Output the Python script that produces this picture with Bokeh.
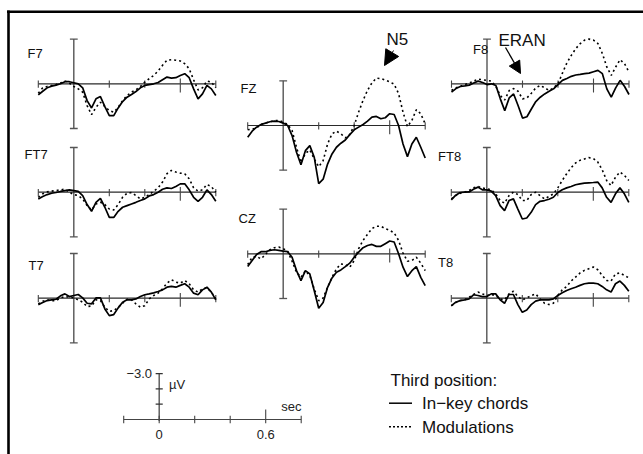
from bokeh.plotting import figure
from bokeh.models import Range1d, Arrow, NormalHead
from bokeh.core.properties import value
from bokeh.embed import file_html
from bokeh.resources import INLINE

# ---------------- data (µV, negative plotted upward) ----------------
TIME_S = [-0.2, -0.175, -0.15, -0.125, -0.1, -0.075, -0.05, -0.025, 0.0, 0.025,
          0.05, 0.075, 0.1, 0.125, 0.15, 0.175, 0.2, 0.225, 0.25, 0.275,
          0.3, 0.325, 0.35, 0.375, 0.4, 0.425, 0.45, 0.475, 0.5, 0.525,
          0.55, 0.575, 0.6, 0.625, 0.65, 0.675, 0.7, 0.725, 0.75, 0.775, 0.8]

F7_INKEY = [0.74, 0.50, 0.27, 0.16, 0.09, 0.00, -0.14, -0.14, -0.07, 0.00,
            0.27, 1.13, 1.62, 1.01, 0.86, 1.53, 2.14, 2.14, 1.62, 1.19,
            0.90, 0.72, 0.52, 0.27, 0.11, 0.05, 0.00, -0.09, -0.27, -0.45,
            -0.38, -0.41, -0.56, -0.68, -0.41, 0.34, 1.01, 0.68, 0.11, 0.34, 0.79]
F7_MOD = [0.63, 0.27, 0.18, 0.11, 0.05, -0.05, -0.18, -0.05, 0.18, 0.34,
          0.56, 1.46, 2.07, 1.58, 1.24, 1.53, 1.80, 1.91, 1.58, 1.13,
          0.79, 0.56, 0.41, 0.18, -0.11, -0.34, -0.56, -0.86, -1.24, -1.58,
          -1.62, -1.58, -1.53, -1.35, -1.01, -0.27, 0.41, 0.27, -0.18, -0.11, 0.27]

FT7_INKEY = [0.45, 0.29, 0.16, 0.07, 0.02, -0.05, -0.11, -0.16, -0.11, -0.05,
             0.23, 0.83, 1.28, 0.68, 0.41, 1.01, 1.69, 1.69, 1.28, 1.01,
             0.90, 0.79, 0.68, 0.56, 0.45, 0.25, 0.16, 0.00, -0.20, -0.29,
             -0.25, -0.38, -0.56, -0.56, -0.16, 0.34, 0.61, 0.34, -0.16, 0.16, 0.61]
FT7_MOD = [0.34, 0.11, -0.02, -0.07, -0.11, -0.16, -0.20, 0.00, 0.16, 0.23,
           0.45, 0.90, 1.19, 0.79, 0.68, 0.83, 1.13, 1.19, 0.83, 0.34,
           0.07, 0.02, 0.23, 0.45, 0.34, 0.16, -0.07, -0.29, -0.68, -1.24,
           -1.46, -1.35, -1.28, -1.24, -0.90, -0.29, -0.07, -0.16, -0.52, -0.38, 0.00]

T7_INKEY = [0.43, 0.29, 0.16, 0.11, 0.07, -0.16, -0.29, -0.11, -0.18, -0.25,
            -0.02, 0.34, 0.38, -0.02, -0.02, 0.72, 1.17, 1.10, 0.65, 0.27,
            0.11, 0.11, 0.05, -0.11, -0.23, -0.29, -0.36, -0.45, -0.56, -0.74,
            -0.79, -0.74, -0.86, -0.97, -0.74, -0.34, -0.23, -0.56, -0.74, -0.41, 0.11]
T7_MOD = [0.38, 0.20, 0.11, 0.16, 0.16, -0.02, -0.11, -0.07, -0.02, 0.11,
          0.27, 0.56, 0.52, 0.11, 0.16, 0.61, 0.88, 0.83, 0.61, 0.34,
          0.07, 0.11, 0.38, 0.61, 0.50, 0.05, -0.18, -0.34, -0.63, -1.01,
          -1.24, -1.08, -1.01, -1.19, -0.97, -0.56, -0.41, -0.63, -0.70, -0.41, 0.05]

FZ_INKEY = [0.79, 0.38, 0.11, -0.07, -0.16, -0.25, -0.29, -0.27, -0.16, 0.00,
            0.68, 1.80, 2.64, 1.69, 1.35, 2.14, 3.90, 3.60, 2.59, 1.91,
            1.46, 1.19, 0.97, 0.61, 0.29, 0.11, -0.07, -0.29, -0.56, -0.61,
            -0.45, -0.52, -0.79, -0.74, 0.00, 1.24, 2.09, 1.24, 0.79, 1.46, 2.18]
FZ_MOD = [0.29, 0.25, 0.16, -0.07, -0.16, -0.25, -0.34, -0.34, -0.23, -0.07,
          0.34, 1.46, 2.48, 1.87, 1.64, 2.25, 2.77, 2.36, 1.24, 0.56,
          0.38, 0.56, 0.83, 0.61, 0.00, -0.90, -1.69, -2.36, -2.86, -3.18,
          -3.15, -3.04, -2.93, -2.77, -2.14, -0.90, 0.07, -0.34, -1.06, -0.79, -0.11]

CZ_INKEY = [0.86, 0.45, 0.05, -0.14, -0.14, -0.23, -0.27, -0.23, -0.18, -0.14,
            0.23, 1.13, 1.80, 1.13, 1.35, 2.48, 3.65, 3.27, 2.25, 1.62,
            1.24, 1.08, 0.86, 0.63, 0.23, -0.11, -0.41, -0.56, -0.63, -0.50,
            -0.50, -0.68, -0.86, -0.79, 0.00, 0.90, 1.53, 1.13, 0.86, 1.58, 2.14]
CZ_MOD = [0.72, 0.23, 0.18, 0.34, 0.05, -0.27, -0.41, -0.45, -0.34, -0.18,
          0.50, 1.24, 1.58, 1.13, 1.46, 2.36, 3.15, 2.97, 2.25, 1.58,
          1.01, 0.68, 0.72, 0.90, 0.45, -0.34, -0.90, -1.31, -1.69, -1.85,
          -1.85, -1.69, -1.58, -1.40, -0.90, -0.05, 0.50, 0.45, 0.23, 0.63, 1.13]

F8_INKEY = [0.56, 0.32, 0.18, 0.14, 0.09, -0.05, -0.18, -0.09, 0.05, 0.00,
            0.11, 1.01, 1.80, 0.95, 0.68, 1.46, 2.30, 2.21, 1.69, 1.19,
            0.90, 0.68, 0.50, 0.34, 0.05, -0.23, -0.36, -0.50, -0.59, -0.63,
            -0.68, -0.72, -0.81, -0.90, -0.68, 0.34, 0.90, 0.27, -0.23, 0.18, 0.72]
F8_MOD = [0.45, 0.27, 0.16, 0.05, -0.05, -0.18, -0.32, -0.27, -0.23, -0.18,
          0.18, 0.79, 1.08, 0.45, 0.32, 0.50, 1.01, 0.95, 0.63, 0.27,
          0.11, 0.27, 0.45, 0.27, 0.00, -0.72, -1.40, -1.91, -2.36, -2.70,
          -2.93, -3.00, -2.93, -2.70, -2.03, -1.13, -0.56, -1.13, -1.62, -1.35, -0.79]

FT8_INKEY = [0.52, 0.20, 0.02, 0.00, -0.02, -0.20, -0.34, -0.16, -0.16, -0.07,
             0.23, 0.90, 1.24, 0.56, 0.45, 1.13, 1.80, 1.73, 1.35, 0.83,
             0.61, 0.56, 0.47, 0.34, 0.02, -0.16, -0.29, -0.38, -0.50, -0.56,
             -0.61, -0.63, -0.65, -0.68, -0.29, 0.34, 0.68, 0.11, -0.29, 0.11, 0.68]
FT8_MOD = [0.45, 0.23, 0.07, 0.00, -0.11, -0.29, -0.38, -0.29, -0.23, -0.16,
           0.11, 0.56, 0.74, 0.23, 0.00, 0.16, 0.56, 0.56, 0.16, 0.00,
           0.23, 0.45, 0.29, 0.11, -0.29, -0.79, -1.24, -1.64, -1.96, -2.14,
           -2.23, -2.32, -2.27, -2.03, -1.51, -0.79, -0.45, -1.01, -1.35, -1.13, -0.79]

T8_INKEY = [0.52, 0.27, 0.16, 0.11, 0.05, -0.23, -0.18, -0.11, -0.11, -0.29,
            -0.29, 0.11, 0.34, -0.25, -0.25, 0.43, 0.95, 0.79, 0.43, 0.20,
            0.11, 0.11, 0.11, 0.05, -0.18, -0.36, -0.52, -0.63, -0.74, -0.86,
            -0.97, -1.01, -1.01, -0.97, -0.79, -0.56, -0.41, -0.97, -1.15, -0.86, -0.47]
T8_MOD = [0.50, 0.29, 0.16, 0.11, -0.07, -0.25, -0.41, -0.29, -0.18, -0.25,
          -0.18, 0.05, 0.11, -0.29, -0.47, -0.11, 0.11, -0.02, -0.18, -0.29,
          0.05, 0.34, 0.43, 0.34, -0.18, -0.56, -0.79, -1.15, -1.42, -1.69,
          -1.87, -1.98, -2.09, -1.91, -1.53, -1.19, -1.15, -1.64, -1.69, -1.53, -1.37]

ELECTRODES = ["F7", "FT7", "T7", "FZ", "CZ", "F8", "FT8", "T8"]
INKEY = {"F7": F7_INKEY, "FT7": FT7_INKEY, "T7": T7_INKEY, "FZ": FZ_INKEY,
         "CZ": CZ_INKEY, "F8": F8_INKEY, "FT8": FT8_INKEY, "T8": T8_INKEY}
MODUL = {"F7": F7_MOD, "FT7": FT7_MOD, "T7": T7_MOD, "FZ": FZ_MOD,
         "CZ": CZ_MOD, "F8": F8_MOD, "FT8": FT8_MOD, "T8": T8_MOD}

X_TICKS = [-0.2, 0.2, 0.4, 0.6, 0.8]
SCALE_X_TICKS = [-0.2, 0.0, 0.2, 0.4, 0.6, 0.8]
SCALE_Y_TICKS = [-3, -2, -1]
SCALE_X_LABELS = ["0", "0.6"]
SCALE_X_LABEL_POS = [0.0, 0.6]
LEGEND_TITLE = "Third position:"
LEGEND_ITEMS = ["In\u2212key chords", "Modulations"]

# ---------------- layout (screen pixels) ----------------
PX_PER_S = 177.5
PX_PER_UV = 14.9
PANEL_ORIGIN = {"F7": (73.3, 83.3), "FT7": (73.3, 191.7), "T7": (73.3, 297.7),
                "FZ": (282.7, 125.0), "CZ": (282.7, 253.3),
                "F8": (486.5, 83.3), "FT8": (486.3, 191.7), "T8": (486.3, 297.7)}
LABEL_POS = {"F7": (27, 52.5), "FT7": (24, 154), "T7": (28, 265),
             "FZ": (240, 88), "CZ": (238, 217.5),
             "F8": (472.5, 49), "FT8": (437.5, 156), "T8": (437.5, 261.5)}
FONT = value("Liberation Sans")

p = figure(width=643, height=454, x_range=Range1d(0, 643), y_range=Range1d(454, 0),
           output_backend="svg", toolbar_location=None, min_border=0,
           x_axis_location=None, y_axis_location=None)
p.grid.visible = False
p.outline_line_color = None
p.background_fill_color = "white"
p.border_fill_color = "white"

# frame lines (top and left)
p.segment(x0=[6.5, 8], y0=[11.3, 10], x1=[643, 8], y1=[11.3, 454],
          line_color="black", line_width=2.6)


def panel(x0, y0):
    return p.subplot(
        x_source=Range1d(-0.2, 0.8), y_source=Range1d(-3, 3),
        x_target=Range1d(x0 - 0.2 * PX_PER_S, x0 + 0.8 * PX_PER_S),
        y_target=Range1d(y0 - 3 * PX_PER_UV, y0 + 3 * PX_PER_UV))


for name in ELECTRODES:
    x0, y0 = PANEL_ORIGIN[name]
    s = panel(x0, y0)
    # vertical axis with caps
    s.segment(x0=[0], y0=[-3], x1=[0], y1=[3], line_color="#555555", line_width=1.4)
    s.segment(x0=[-0.022, -0.022], y0=[-3, 3], x1=[0.022, 0.022], y1=[-3, 3],
              line_color="#555555", line_width=1.3)
    # horizontal baseline with ticks
    s.segment(x0=[-0.2], y0=[0], x1=[0.8], y1=[0], line_color="#2a2a2a", line_width=1.2)
    small = [t for t in X_TICKS if t != 0.6]
    s.segment(x0=small, y0=[-0.22] * len(small), x1=small, y1=[0.27] * len(small),
              line_color="#444444", line_width=1.1)
    s.segment(x0=[0.6], y0=[-0.35], x1=[0.6], y1=[0.58], line_color="#444444", line_width=1.1)
    # waveforms
    s.line(x=TIME_S, y=MODUL[name], line_color="black", line_width=1.6, line_dash="2 3")
    s.line(x=TIME_S, y=INKEY[name], line_color="black", line_width=1.7)

p.text(x=[LABEL_POS[n][0] for n in ELECTRODES], y=[LABEL_POS[n][1] for n in ELECTRODES],
       text=ELECTRODES, text_font=FONT, text_font_size="13px", text_color="#111111",
       text_align="left", text_baseline="middle")

# component annotations
p.text(x=[386, 498], y=[38.5, 39.5], text=["N5", "ERAN"], text_font=FONT,
       text_font_size="17px", text_color="#111111", text_align="left", text_baseline="middle")
p.add_layout(Arrow(end=NormalHead(size=15, fill_color="black", line_color="black"),
                   x_start=393, y_start=50, x_end=384, y_end=65, line_width=1.0))
p.add_layout(Arrow(end=NormalHead(size=12, fill_color="black", line_color="black"),
                   x_start=505, y_start=47, x_end=520, y_end=73, line_width=1.3))

# ---------------- calibration bar ----------------
SX0, SY0 = 158.7, 419.0
sb = p.subplot(x_source=Range1d(-0.2, 0.8), y_source=Range1d(-3, 0),
               x_target=Range1d(SX0 - 0.2 * PX_PER_S, SX0 + 0.8 * PX_PER_S),
               y_target=Range1d(SY0 - 3 * 15.3, SY0))
sb.segment(x0=[0], y0=[-3], x1=[0], y1=[0.1], line_color="#555555", line_width=1.4)
sb.segment(x0=[-0.02] * 3, y0=SCALE_Y_TICKS, x1=[0.02] * 3, y1=SCALE_Y_TICKS,
           line_color="#333333", line_width=1.3)
sb.segment(x0=[-0.2], y0=[0], x1=[0.8], y1=[0], line_color="#444444", line_width=1.1)
sb_small = [t for t in SCALE_X_TICKS if t != 0.6]
sb.segment(x0=sb_small, y0=[-0.25] * len(sb_small), x1=sb_small, y1=[0.25] * len(sb_small),
           line_color="#444444", line_width=1.1)
sb.segment(x0=[0.6], y0=[-0.65], x1=[0.6], y1=[0.25], line_color="#444444", line_width=1.1)
sb.text(x=SCALE_X_LABEL_POS, y=[0.95, 0.95], text=SCALE_X_LABELS, text_font=FONT,
        text_font_size="13px", text_color="#222222", text_align="center", text_baseline="middle")
sb.text(x=[-0.04], y=[-3], text=["\u22123.0"], text_font=FONT, text_font_size="13px",
        text_color="#222222", text_align="right", text_baseline="middle")
sb.text(x=[0.055], y=[-2.3], text=["\u00b5V"], text_font=FONT, text_font_size="13px",
        text_color="#222222", text_align="left", text_baseline="middle")
sb.text(x=[0.745], y=[-0.85], text=["sec"], text_font=FONT, text_font_size="13px",
        text_color="#222222", text_align="center", text_baseline="middle")

# ---------------- legend ----------------
p.text(x=[390], y=[380], text=[LEGEND_TITLE], text_font=FONT, text_font_size="17px",
       text_color="#111111", text_align="left", text_baseline="middle")
p.text(x=[421.5, 421.5], y=[403.3, 427.3], text=LEGEND_ITEMS, text_font=FONT,
       text_font_size="17px", text_color="#111111", text_align="left", text_baseline="middle")
p.segment(x0=[388.5], y0=[402.7], x1=[411.5], y1=[402.7], line_color="black", line_width=1.5)
p.segment(x0=[388.5], y0=[426.3], x1=[411.5], y1=[426.3], line_color="black",
          line_width=1.5, line_dash="2 2")

open("out.html", "w").write(file_html(p, INLINE))
